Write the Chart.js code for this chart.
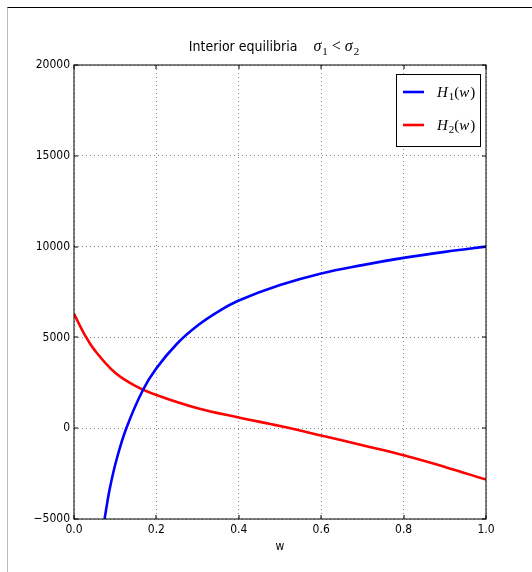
<!DOCTYPE html>
<html><head><meta charset="utf-8">
<script src="https://cdn.jsdelivr.net/npm/chart.js@4/dist/chart.umd.min.js"></script>
<style>
html,body{margin:0;padding:0;background:#fff;}
#wrap{position:relative;width:532px;height:572px;overflow:hidden;}
#frame{position:absolute;left:7px;top:7px;right:-2px;bottom:-2px;border-top:1px solid #000;border-left:1px solid #bbb;pointer-events:none;}
canvas{position:absolute;left:0;top:0;}
</style></head><body>
<div id="wrap"><canvas id="c" width="532" height="572"></canvas><div id="frame"></div></div>
<script>
// ---- data ----
const titleText = 'Interior equilibria';
const titleMath = 'σ₁\u2005<\u2005σ₂';
const xAxisTitle = 'w';
const xTicks = [0, 0.2, 0.4, 0.6, 0.8, 1.0];
const yTicks = [-5000, 0, 5000, 10000, 15000, 20000];
const seriesLabels = ['H₁(w)', 'H₂(w)'];
const wH1 = [0.0742, 0.0864, 0.103, 0.127, 0.167, 0.2, 0.25, 0.3, 0.35, 0.4, 0.5, 0.6, 0.7, 0.8, 0.9, 1.0];
const H1  = [-5000, -3380, -1750, 0, 2090, 3300, 4650, 5650, 6420, 7030, 7880, 8520, 8980, 9380, 9710, 10000];
const wH2 = [0, 0.025, 0.05, 0.1, 0.15, 0.2, 0.3, 0.4, 0.5, 0.6, 0.7, 0.8, 0.9, 1.0];
const H2  = [6300, 5185, 4300, 3050, 2320, 1830, 1100, 590, 120, -400, -940, -1490, -2130, -2830];
const colors = ['#0000ff', '#ff0000'];

const SANS = '"DejaVu Sans Condensed", "Liberation Sans Narrow", "DejaVu Sans", sans-serif';
const SERIF = '"Liberation Serif", "DejaVu Serif", serif';

function drawMath(ctx, str, x, y, size, draw) {
  let cx = x;
  for (const ch of str) {
    const code = ch.codePointAt(0);
    if (code >= 0x2080 && code <= 0x2089) {
      const d = String(code - 0x2080);
      ctx.font = Math.round(size * 0.7) + 'px ' + SERIF;
      if (draw) ctx.fillText(d, cx, y + size * 0.22);
      cx += ctx.measureText(d).width;
    } else if (/[A-Za-z\u03b1-\u03c9]/.test(ch)) {
      ctx.font = 'italic ' + size + 'px ' + SERIF;
      if (draw) ctx.fillText(ch, cx, y);
      cx += ctx.measureText(ch).width + 1;
    } else {
      ctx.font = size + 'px ' + SERIF;
      if (draw) ctx.fillText(ch, cx, y);
      cx += ctx.measureText(ch).width;
    }
  }
  return cx - x;
}

const decor = {
  id: 'decor',
  afterDraw(chart) {
    const ctx = chart.ctx;
    const a = chart.chartArea;
    const xs = chart.scales.x, ys = chart.scales.y;
    ctx.save();
    ctx.strokeStyle = '#000';
    ctx.lineWidth = 1;
    ctx.strokeRect(a.left, a.top, a.right - a.left, a.bottom - a.top);
    ctx.beginPath();
    xTicks.forEach(v => {
      const px = Math.round(xs.getPixelForValue(v));
      ctx.moveTo(px, a.bottom); ctx.lineTo(px, a.bottom - 4);
      ctx.moveTo(px, a.top); ctx.lineTo(px, a.top + 4);
    });
    yTicks.forEach(v => {
      const py = Math.round(ys.getPixelForValue(v));
      ctx.moveTo(a.left, py); ctx.lineTo(a.left + 4, py);
      ctx.moveTo(a.right, py); ctx.lineTo(a.right - 4, py);
    });
    ctx.stroke();
    // title
    ctx.fillStyle = '#000';
    ctx.textBaseline = 'alphabetic';
    ctx.textAlign = 'left';
    ctx.font = '14px ' + SANS;
    const w1 = ctx.measureText(titleText).width;
    const gap = 16;
    const w2 = drawMath(ctx, titleMath, 0, 0, 16, false);
    const cx = (a.left + a.right) / 2 - 6;
    const sx = cx - (w1 + gap + w2) / 2;
    ctx.font = '14px ' + SANS;
    ctx.fillText(titleText, sx, 51);
    drawMath(ctx, titleMath, sx + w1 + gap, 51, 16, true);
    // legend
    const lx = 396, ly = 74, lw = 84, lh = 72;
    ctx.fillStyle = '#fff';
    ctx.fillRect(lx, ly, lw, lh);
    ctx.strokeStyle = '#000';
    ctx.strokeRect(lx + 0.5, ly + 0.5, lw, lh);
    chart.data.datasets.forEach((ds, i) => {
      const yy = 92 + i * 33;
      ctx.strokeStyle = ds.borderColor;
      ctx.lineWidth = 2.6;
      ctx.beginPath();
      ctx.moveTo(403, yy); ctx.lineTo(424, yy);
      ctx.stroke();
      ctx.fillStyle = '#000';
      drawMath(ctx, ds.label, 437, yy + 5, 15, true);
    });
    ctx.restore();
  }
};

const fmtY = v => String(v).replace('-', '\u2212');
const lineStyle = { borderWidth: 2.6, pointRadius: 0, pointHoverRadius: 0, tension: 0.4, fill: false };

new Chart(document.getElementById('c'), {
  type: 'line',
  data: {
    datasets: [
      Object.assign({ label: seriesLabels[0], data: wH1.map((w, i) => ({ x: w, y: H1[i] })), borderColor: colors[0], backgroundColor: colors[0] }, lineStyle),
      Object.assign({ label: seriesLabels[1], data: wH2.map((w, i) => ({ x: w, y: H2[i] })), borderColor: colors[1], backgroundColor: colors[1] }, lineStyle)
    ]
  },
  options: {
    responsive: false,
    animation: false,
    devicePixelRatio: 1,
    layout: { padding: { left: 0, top: 65, right: 46, bottom: 0 } },
    plugins: { legend: { display: false }, title: { display: false }, tooltip: { enabled: false } },
    scales: {
      x: {
        type: 'linear', min: 0, max: 1,
        afterBuildTicks: s => { s.ticks = xTicks.map(v => ({ value: v })); },
        afterFit: s => { s.height = 53; },
        border: { display: false, dash: [1, 3] },
        grid: { color: '#888', lineWidth: 1, drawTicks: false },
        ticks: { padding: 4, color: '#000', font: { family: SANS, size: 12 }, callback: v => Number(v).toFixed(1), maxRotation: 0, autoSkip: false },
        title: { display: true, text: xAxisTitle, color: '#000', font: { family: SANS, size: 12 }, padding: { top: 0, bottom: 18 } }
      },
      y: {
        type: 'linear', min: -5000, max: 20000,
        afterBuildTicks: s => { s.ticks = yTicks.map(v => ({ value: v })); },
        afterFit: s => { s.width = 74; },
        border: { display: false, dash: [1, 3] },
        grid: { color: '#888', lineWidth: 1, drawTicks: false },
        ticks: { padding: 4, color: '#000', font: { family: SANS, size: 12 }, callback: v => fmtY(v), autoSkip: false }
      }
    }
  },
  plugins: [decor]
});
</script>
</body></html>
